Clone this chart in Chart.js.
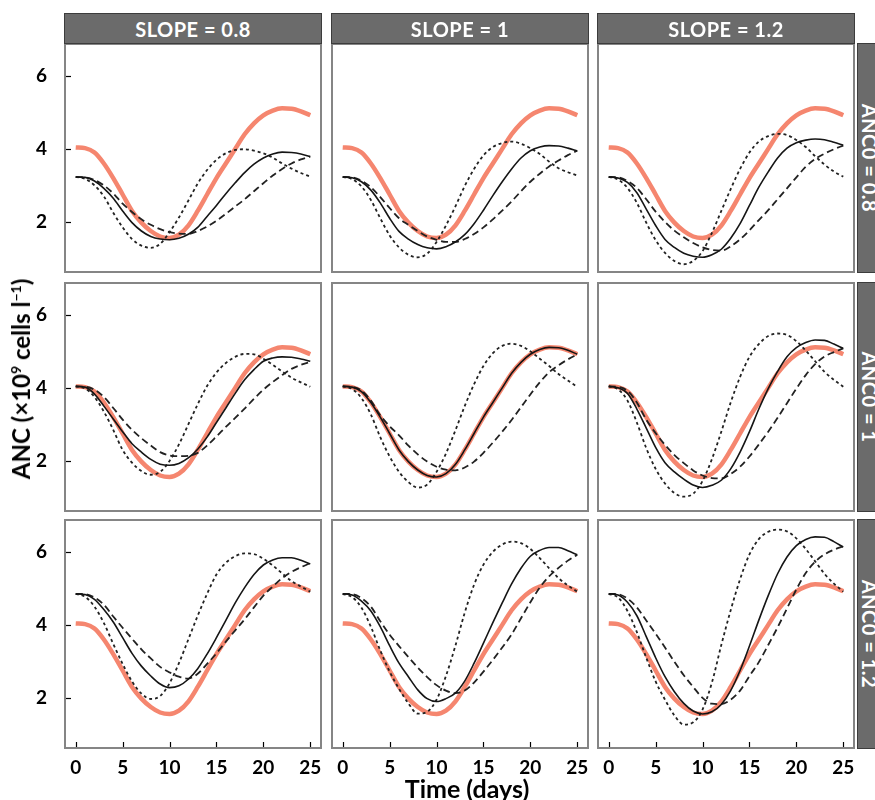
<!DOCTYPE html>
<html><head><meta charset="utf-8">
<script src="https://cdn.jsdelivr.net/npm/chart.js@4.4.1/dist/chart.umd.min.js"></script>
<style>
html,body{margin:0;padding:0;overflow:hidden;background:#fff;}
#wrap{position:relative;width:875px;height:800px;overflow:hidden;font-family:Lato,"Open Sans",sans-serif;}
#wrap canvas{position:absolute;}
.strip{position:absolute;background:#6b6b6b;border:1px solid #3c3c3c;box-sizing:border-box;color:#fff;font-weight:bold;font-size:20px;letter-spacing:0.5px;display:flex;align-items:center;justify-content:center;white-space:nowrap;}
.vstrip span{display:block;transform:rotate(90deg);}
.title{position:absolute;font-weight:bold;color:#000;white-space:nowrap;line-height:1;}
</style></head>
<body><div id="wrap"></div>
<script>
// ---------- data ----------
const days = [0,1,2,3,4,5,6,7,8,9,10,11,12,13,14,15,16,17,18,19,20,21,22,23,24,25];
const xTicks = [0,5,10,15,20,25];
const yTicks = [2,4,6];
const slopeLabels = ['SLOPE = 0.8','SLOPE = 1','SLOPE = 1.2'];
const ancLabels = ['ANC0 = 0.8','ANC0 = 1','ANC0 = 1.2'];

// reference curve (salmon), identical in every panel
const reference = [4.04,4.02,3.9,3.6,3.2,2.75,2.3,1.98,1.75,1.6,1.56,1.65,1.9,2.3,2.75,3.2,3.6,4.0,4.4,4.7,4.92,5.05,5.11,5.1,5.03,4.92];

// ANC0 = 0.8
const solid_a08_s08  = [3.23,3.22,3.12,2.92,2.65,2.3,1.98,1.75,1.6,1.53,1.51,1.55,1.66,1.85,2.15,2.45,2.77,3.07,3.35,3.58,3.75,3.86,3.91,3.9,3.86,3.79];
const dotted_a08_s08 = [3.23,3.18,3.0,2.7,2.25,1.85,1.53,1.35,1.29,1.4,1.72,2.12,2.58,3.05,3.42,3.7,3.88,3.97,3.99,3.95,3.88,3.76,3.6,3.46,3.34,3.24];
const dashed_a08_s08 = [3.23,3.22,3.15,3.0,2.78,2.5,2.27,2.07,1.92,1.8,1.72,1.68,1.67,1.75,1.87,2.03,2.22,2.42,2.62,2.84,3.06,3.27,3.45,3.6,3.71,3.79];
const solid_a08_s10  = [3.23,3.21,3.1,2.87,2.52,2.1,1.74,1.53,1.38,1.29,1.26,1.32,1.45,1.65,1.95,2.32,2.72,3.1,3.45,3.75,3.95,4.05,4.09,4.08,4.02,3.94];
const dotted_a08_s10 = [3.23,3.17,2.97,2.6,2.1,1.63,1.3,1.1,1.03,1.13,1.45,1.9,2.42,2.98,3.45,3.82,4.05,4.16,4.2,4.14,4.02,3.86,3.65,3.47,3.36,3.27];
const dashed_a08_s10 = [3.23,3.22,3.13,2.95,2.68,2.38,2.1,1.92,1.75,1.6,1.51,1.45,1.45,1.53,1.67,1.85,2.07,2.31,2.56,2.84,3.1,3.32,3.52,3.68,3.83,3.95];
const solid_a08_s12  = [3.23,3.2,3.08,2.8,2.35,1.9,1.52,1.3,1.14,1.06,1.03,1.1,1.25,1.55,1.95,2.45,2.95,3.37,3.75,4.02,4.17,4.24,4.27,4.25,4.18,4.1];
const dotted_a08_s12 = [3.23,3.16,2.93,2.52,1.98,1.5,1.15,0.93,0.84,0.93,1.2,1.7,2.3,2.9,3.45,3.9,4.2,4.35,4.41,4.38,4.24,4.05,3.8,3.57,3.38,3.24];
const dashed_a08_s12 = [3.23,3.22,3.12,2.93,2.62,2.28,2.0,1.76,1.58,1.42,1.3,1.23,1.21,1.33,1.52,1.77,2.05,2.32,2.62,2.92,3.22,3.51,3.72,3.87,3.99,4.09];

// ANC0 = 1
const solid_a10_s08  = [4.04,4.02,3.83,3.5,3.15,2.8,2.47,2.24,2.04,1.91,1.88,1.93,2.08,2.32,2.65,3.05,3.45,3.85,4.22,4.5,4.73,4.82,4.85,4.84,4.79,4.73];
const dotted_a10_s08 = [4.04,3.98,3.75,3.35,2.85,2.3,1.95,1.72,1.62,1.7,2.0,2.45,3.0,3.55,4.05,4.42,4.68,4.85,4.93,4.92,4.8,4.63,4.45,4.28,4.15,4.03];
const dashed_a10_s08 = [4.04,4.03,3.95,3.75,3.45,3.13,2.85,2.62,2.42,2.24,2.15,2.13,2.14,2.22,2.42,2.67,2.93,3.18,3.43,3.7,3.95,4.16,4.35,4.52,4.63,4.71];
const solid_a10_s10  = [4.04,4.02,3.9,3.6,3.2,2.75,2.3,1.98,1.75,1.6,1.56,1.65,1.9,2.3,2.75,3.2,3.6,4.0,4.4,4.7,4.92,5.05,5.11,5.1,5.03,4.92];
const dotted_a10_s10 = [4.04,3.97,3.72,3.27,2.65,2.12,1.7,1.42,1.27,1.35,1.7,2.2,2.83,3.5,4.1,4.6,4.95,5.15,5.21,5.15,5.0,4.8,4.6,4.38,4.2,4.03];
const dashed_a10_s10 = [4.04,4.03,3.93,3.65,3.25,2.95,2.7,2.42,2.18,1.98,1.84,1.76,1.74,1.82,1.98,2.22,2.5,2.8,3.12,3.47,3.82,4.15,4.43,4.62,4.78,4.92];
const solid_a10_s12  = [4.04,4.0,3.85,3.42,2.9,2.37,1.95,1.7,1.5,1.34,1.27,1.33,1.47,1.78,2.24,2.8,3.42,3.98,4.45,4.85,5.1,5.24,5.31,5.3,5.2,5.08];
const dotted_a10_s12 = [4.04,3.96,3.65,3.05,2.35,1.78,1.38,1.12,1.02,1.1,1.45,2.05,2.8,3.6,4.3,4.85,5.2,5.42,5.49,5.45,5.28,5.02,4.73,4.44,4.22,4.03];
const dashed_a10_s12 = [4.04,4.03,3.92,3.6,3.13,2.76,2.44,2.16,1.94,1.74,1.6,1.53,1.52,1.64,1.84,2.12,2.45,2.8,3.18,3.58,3.98,4.35,4.65,4.86,4.98,5.08];

// ANC0 = 1.2
const solid_a12_s08  = [4.85,4.83,4.7,4.42,4.08,3.65,3.22,2.87,2.6,2.38,2.28,2.33,2.51,2.8,3.2,3.65,4.12,4.6,5.02,5.38,5.64,5.78,5.84,5.84,5.77,5.67];
const dotted_a12_s08 = [4.85,4.77,4.5,4.05,3.48,2.93,2.45,2.12,1.97,2.05,2.4,2.95,3.6,4.25,4.85,5.38,5.7,5.88,5.96,5.94,5.81,5.63,5.41,5.2,5.05,4.91];
const dashed_a12_s08 = [4.85,4.84,4.75,4.55,4.23,3.92,3.62,3.33,3.08,2.85,2.7,2.58,2.53,2.66,2.93,3.22,3.54,3.85,4.15,4.48,4.8,5.05,5.28,5.45,5.58,5.69];
const solid_a12_s10  = [4.85,4.82,4.65,4.38,3.95,3.43,2.95,2.58,2.22,1.98,1.9,1.98,2.13,2.46,2.95,3.5,4.06,4.6,5.12,5.55,5.88,6.04,6.12,6.12,6.03,5.92];
const dotted_a12_s10 = [4.85,4.76,4.47,3.95,3.3,2.72,2.25,1.85,1.57,1.62,1.95,2.6,3.42,4.33,5.1,5.65,6.0,6.2,6.28,6.24,6.08,5.83,5.55,5.28,5.08,4.91];
const dashed_a12_s10 = [4.85,4.84,4.73,4.5,4.1,3.73,3.42,3.12,2.83,2.57,2.35,2.2,2.13,2.2,2.42,2.72,3.04,3.38,3.74,4.18,4.62,5.02,5.33,5.56,5.76,5.92];
const solid_a12_s12  = [4.85,4.82,4.62,4.25,3.68,3.1,2.58,2.17,1.85,1.64,1.56,1.62,1.82,2.2,2.75,3.42,4.13,4.8,5.4,5.86,6.17,6.34,6.41,6.4,6.28,6.13];
const dotted_a12_s12 = [4.85,4.75,4.38,3.8,3.1,2.45,1.95,1.52,1.27,1.33,1.68,2.42,3.45,4.4,5.25,5.93,6.35,6.55,6.61,6.56,6.37,6.08,5.74,5.4,5.13,4.91];
const dashed_a12_s12 = [4.85,4.84,4.72,4.48,4.12,3.76,3.38,2.99,2.62,2.3,2.0,1.84,1.83,1.95,2.2,2.6,2.98,3.45,3.93,4.45,4.97,5.42,5.73,5.93,6.06,6.15];

const panelSeries = [
  [[solid_a08_s08,dotted_a08_s08,dashed_a08_s08],[solid_a08_s10,dotted_a08_s10,dashed_a08_s10],[solid_a08_s12,dotted_a08_s12,dashed_a08_s12]],
  [[solid_a10_s08,dotted_a10_s08,dashed_a10_s08],[solid_a10_s10,dotted_a10_s10,dashed_a10_s10],[solid_a10_s12,dotted_a10_s12,dashed_a10_s12]],
  [[solid_a12_s08,dotted_a12_s08,dashed_a12_s08],[solid_a12_s10,dotted_a12_s10,dashed_a12_s10],[solid_a12_s12,dotted_a12_s12,dashed_a12_s12]]
];

// ---------- layout ----------
const colLeft = [64, 331, 597];
const rowTop = [43, 282, 519];
const PW = 258, PH = 230;
const LEFT_AXIS = 64, BOTTOM_AXIS = 40;
const wrap = document.getElementById('wrap');

const toXY = arr => arr.map((v,i)=>({x:days[i], y:v}));

const panelDeco = {
  id:'panelDeco',
  afterDatasetsDraw(chart, args, opts){
    const {ctx, chartArea:a, scales} = chart;
    ctx.save();
    ctx.strokeStyle = '#000'; ctx.lineWidth = 1.2;
    if (opts.left){
      yTicks.forEach(v=>{const y=Math.round(scales.y.getPixelForValue(v))+0.5;
        ctx.beginPath(); ctx.moveTo(a.left, y); ctx.lineTo(a.left+7, y); ctx.stroke();});
    }
    if (opts.bottom){
      xTicks.forEach(v=>{const x=Math.round(scales.x.getPixelForValue(v))+0.5;
        ctx.beginPath(); ctx.moveTo(x, a.bottom); ctx.lineTo(x, a.bottom-7); ctx.stroke();});
    }
    ctx.strokeStyle = '#858585'; ctx.lineWidth = 2;
    ctx.strokeRect(a.left+1, a.top+1, a.right-a.left-2, a.bottom-a.top-2);
    ctx.restore();
  }
};

Chart.defaults.font.family = 'Lato, "Open Sans", sans-serif';
Chart.defaults.font.weight = 'bold';
Chart.defaults.font.size = 19;
Chart.defaults.color = '#000';

for (let r=0;r<3;r++){
  for (let c=0;c<3;c++){
    const hasL = c===0, hasB = r===2;
    const cv = document.createElement('canvas');
    const w = PW + (hasL?LEFT_AXIS:0), h = PH + (hasB?BOTTOM_AXIS:0);
    cv.width = w; cv.height = h;
    cv.style.width = w+'px'; cv.style.height = h+'px';
    cv.style.left = (colLeft[c]-(hasL?LEFT_AXIS:0))+'px';
    cv.style.top = rowTop[r]+'px';
    wrap.appendChild(cv);
    const [sol, dot, dash] = panelSeries[r][c];
    new Chart(cv, {
      type:'line',
      data:{datasets:[
        {data:toXY(sol), borderColor:'#151515', borderWidth:1.6},
        {data:toXY(dot), borderColor:'#222', borderWidth:1.8, borderDash:[3,3]},
        {data:toXY(dash), borderColor:'#222', borderWidth:1.8, borderDash:[7,4]},
        {data:toXY(reference), borderColor:'#F5866F', borderWidth:4.5}
      ]},
      options:{
        responsive:false, animation:false, devicePixelRatio:1,
        layout:{padding:0},
        elements:{point:{radius:0}, line:{cubicInterpolationMode:'monotone', fill:false}},
        plugins:{legend:{display:false}, tooltip:{enabled:false}, panelDeco:{left:hasL, bottom:hasB}},
        scales:{
          x:{type:'linear', min:-1.25, max:26.25, display:hasB,
             grid:{display:false, drawTicks:false}, border:{display:false},
             ticks:{padding:7, maxRotation:0, autoSkip:false},
             afterBuildTicks:s=>{s.ticks = xTicks.map(v=>({value:v}));},
             afterFit:s=>{ if (hasB) s.height = BOTTOM_AXIS; s.paddingLeft = 0; s.paddingRight = 0; }},
          y:{type:'linear', min:0.6, max:6.9, display:hasL,
             grid:{display:false, drawTicks:false}, border:{display:false},
             ticks:{padding:17},
             afterBuildTicks:s=>{s.ticks = yTicks.map(v=>({value:v}));},
             afterFit:s=>{ if (hasL) s.width = LEFT_AXIS; s.paddingTop = 0; s.paddingBottom = 0; }}
        }
      },
      plugins:[panelDeco]
    });
  }
}

// strips
for (let c=0;c<3;c++){
  const d = document.createElement('div');
  d.className='strip';
  Object.assign(d.style,{left:colLeft[c]+'px', top:'13px', width:PW+'px', height:'31px'});
  d.textContent = slopeLabels[c];
  wrap.appendChild(d);
}
for (let r=0;r<3;r++){
  const d = document.createElement('div');
  d.className='strip vstrip';
  Object.assign(d.style,{left:'857px', top:rowTop[r]+'px', width:'26px', height:PH+'px'});
  const s = document.createElement('span'); s.textContent = ancLabels[r];
  d.appendChild(s);
  wrap.appendChild(d);
}

// axis titles
const xt = document.createElement('div');
xt.className='title'; xt.textContent='Time (days)';
Object.assign(xt.style,{left:'467px', top:'788px', fontSize:'25px', transform:'translate(-50%,-50%)'});
wrap.appendChild(xt);
const yt = document.createElement('div');
yt.className='title';
yt.innerHTML='ANC (×10<sup style="font-size:14px;line-height:0">9</sup> cells l<sup style="font-size:14px;line-height:0">−1</sup>)';
Object.assign(yt.style,{left:'21px', top:'379px', fontSize:'24px', transform:'translate(-50%,-50%) rotate(-90deg)'});
wrap.appendChild(yt);
</script>
</body></html>
